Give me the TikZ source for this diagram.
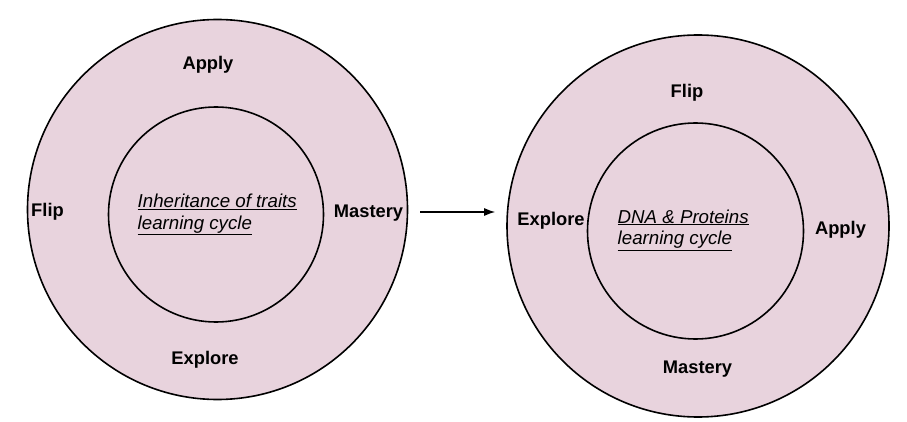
\documentclass[tikz,border=0pt]{standalone}
\usepackage{fontspec}
\setmainfont{Liberation Sans}
\usetikzlibrary{arrows.meta}
\definecolor{ringfill}{HTML}{E8D3DD}
\tikzset{
  x=1pt, y=-1pt,
  ring/.style={circle, draw=black, line width=1.6pt, fill=ringfill, inner sep=0pt, minimum size=#1},
  lab/.style={font=\fontsize{18.3}{21}\selectfont\bfseries, inner sep=0pt},
  core/.style={font=\fontsize{18.7}{21.5}\selectfont\itshape, align=left, inner sep=0pt, anchor=west},
  arr/.style={line width=1.3pt, -{Latex[length=11pt,width=8pt]}}
}
\begin{document}
\begin{tikzpicture}
\useasboundingbox (0,0) rectangle (907,422);
% left cycle
\node[ring=380pt] (outerL) at (217.5,209.5) {};
\node[ring=215pt] (innerL) at (216,214.5) {};
\node[lab] (applyL) at (208,65) {Apply};
\node[lab] (flipL) at (47.5,212) {Flip};
\node[lab] (masteryL) at (368.5,213) {Mastery};
\node[lab] (exploreL) at (205,360) {Explore};
\node[core] (coreL) at (137.5,214.5) {\underline{Inheritance of traits}\\\underline{learning cycle}};
% right cycle
\node[ring=382pt] (outerR) at (698,226) {};
\node[ring=216pt] (innerR) at (695.5,231) {};
\node[lab] (flipR) at (687,93) {Flip};
\node[lab] (exploreR) at (551,221) {Explore};
\node[lab] (applyR) at (840.5,230) {Apply};
\node[lab] (masteryR) at (697.5,369) {Mastery};
\node[core] (coreR) at (617.5,230) {\underline{DNA \& Proteins}\\\underline{learning cycle}};
% connector
\path (outerL.east) ++(12,2.5) coordinate (a1);
\path (outerR.west) ++(-11,-14) coordinate (a2);
\draw[arr] (a1) -- (a2);
\end{tikzpicture}
\end{document}
